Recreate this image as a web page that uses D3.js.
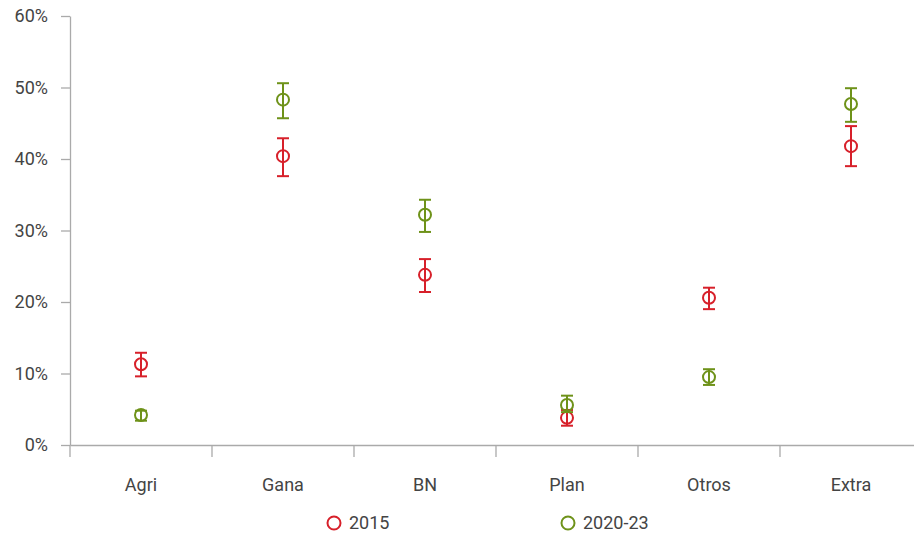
<!DOCTYPE html>
<html><head><meta charset="utf-8">
<script src="https://cdn.jsdelivr.net/npm/d3@7"></script>
<style>body{margin:0;background:#fff}svg{display:block}text{font-family:Roboto,"Open Sans",sans-serif}</style>
</head><body><svg id="c" width="914" height="538"></svg>
<script>
const categories = ["Agri","Gana","BN","Plan","Otros","Extra"];
const seriesNames = ["2015","2020-23"];
const v2015 = [11.3, 40.4, 23.8, 3.8, 20.6, 41.8];
const lo2015 = [9.6, 37.6, 21.4, 2.7, 19.0, 39.0];
const hi2015 = [12.9, 42.9, 26.0, 4.9, 22.0, 44.6];
const v2020 = [4.2, 48.3, 32.2, 5.6, 9.5, 47.7];
const lo2020 = [3.4, 45.7, 29.8, 4.6, 8.4, 45.2];
const hi2020 = [4.8, 50.6, 34.3, 6.9, 10.6, 49.9];
const yTicks = [0,10,20,30,40,50,60];
const colors = ["#d7202a","#6e9219"];

const svg = d3.select("#c");
const x = d3.scaleBand().domain(categories).range([70, 922]);
const y = d3.scaleLinear().domain([0,60]).range([445, 16]);

const yAxis = svg.append("g").attr("transform","translate(70,0)")
  .call(d3.axisLeft(y).tickValues(yTicks).tickFormat(d=>d+"%").tickSize(9).tickSizeOuter(0));
const xAxis = svg.append("g").attr("transform","translate(0,445)")
  .call(d3.axisBottom(x).tickValues([]).tickSizeOuter(0));
[yAxis,xAxis].forEach(g=>{g.selectAll("path,line").attr("stroke","#aaa").attr("stroke-width",1.3);
  g.selectAll("text").attr("fill","#444").style("font-size","18px");});
yAxis.selectAll("text").attr("dx","-10");
const bounds = categories.map(c=>x(c)).concat([x.range()[1]]);
svg.append("g").selectAll("line").data(bounds).join("line")
  .attr("x1",d=>d).attr("x2",d=>d).attr("y1",445).attr("y2",457)
  .attr("stroke","#aaa").attr("stroke-width",1.3);
svg.append("g").selectAll("text").data(categories).join("text")
  .attr("x",d=>x(d)+x.bandwidth()/2).attr("y",491).attr("text-anchor","middle")
  .attr("fill","#444").style("font-size","18px").text(d=>d);

const series = [
  {v:v2015, lo:lo2015, hi:hi2015, c:colors[0]},
  {v:v2020, lo:lo2020, hi:hi2020, c:colors[1]}
];
series.forEach(s=>{
  const g = svg.append("g");
  categories.forEach((cat,i)=>{
    const cx = x(cat)+x.bandwidth()/2;
    g.append("line").attr("x1",cx).attr("x2",cx).attr("y1",y(s.lo[i])).attr("y2",y(s.hi[i])).attr("stroke",s.c).attr("stroke-width",2);
    [s.lo[i],s.hi[i]].forEach(e=>g.append("line").attr("x1",cx-6).attr("x2",cx+6).attr("y1",y(e)).attr("y2",y(e)).attr("stroke",s.c).attr("stroke-width",2));
    g.append("circle").attr("cx",cx).attr("cy",y(s.v[i])).attr("r",6).attr("fill","none").attr("stroke",s.c).attr("stroke-width",2);
  });
});

const legX = [334, 568];
seriesNames.forEach((n,i)=>{
  svg.append("circle").attr("cx",legX[i]).attr("cy",523).attr("r",6.5).attr("fill","none").attr("stroke",colors[i]).attr("stroke-width",2);
  svg.append("text").attr("x",legX[i]+15).attr("y",529).attr("fill","#444").style("font-size","18px").text(n);
});
</script></body></html>
